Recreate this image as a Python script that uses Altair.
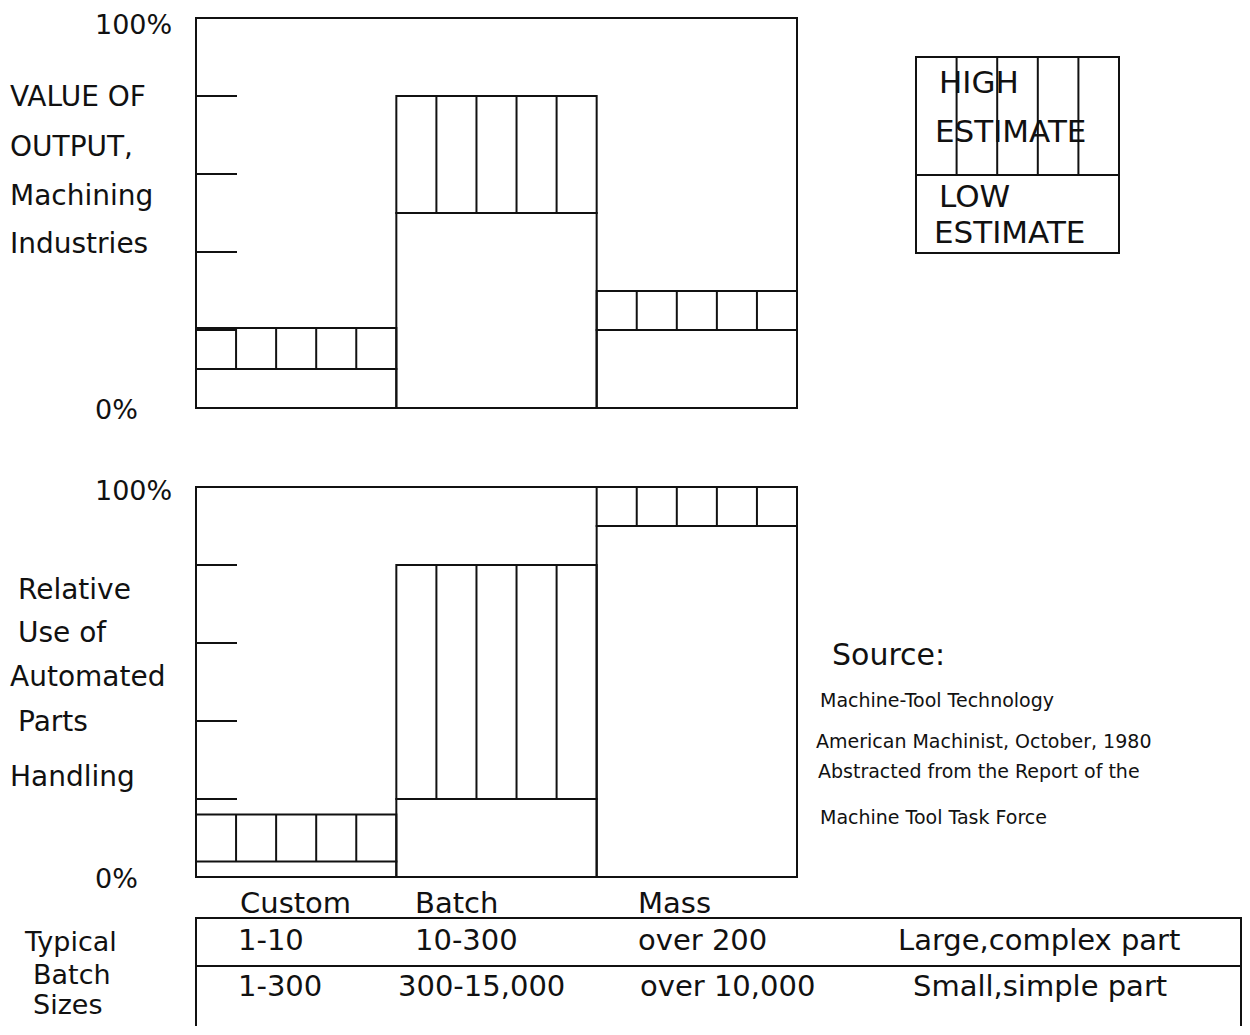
import altair as alt
import pandas as pd

# ---------------- data ----------------
categories = ["Custom", "Batch", "Mass"]
output_low = [10, 50, 20]          # VALUE OF OUTPUT, low estimate (%)
output_high = [20.5, 80, 30]       # VALUE OF OUTPUT, high estimate (%)
auto_low = [4, 20, 90]             # Relative use of automated parts handling, low (%)
auto_high = [16, 80, 100]          # high (%)
tick_values = [20, 40, 60, 80]
pct_values = [100, 0]
pct_labels = ["100%", "0%"]
n_cells = 5

top_title = ["VALUE OF", "OUTPUT,", "Machining", "Industries"]
bottom_title = ["Relative", "Use of", "Automated", "Parts", "Handling"]
legend_high = ["HIGH", "ESTIMATE"]
legend_low = ["LOW", "ESTIMATE"]
source_head = "Source:"
source_lines = ["Machine-Tool Technology", "American Machinist, October, 1980",
                "Abstracted from the Report of the", "Machine Tool Task Force"]
table_label = ["Typical", "Batch", "Sizes"]
row_large = ["1-10", "10-300", "over 200", "Large,complex part"]
row_small = ["1-300", "300-15,000", "over 10,000", "Small,simple part"]

# ---------------- layout / style ----------------
INK = "#111111"
FONT = "DejaVu Sans"
LW = 2
PANEL_W = 601
TOP_RANGE = [390, 0]
BOT_RANGE = [859, 469]
W, H = 1046, 1008


def label(text, x, y, size, align="left"):
    return alt.Chart(pd.DataFrame({"t": [text]})).mark_text(
        align=align, baseline="middle", fontSize=size, font=FONT, color=INK
    ).encode(x=alt.value(x), y=alt.value(y), text="t:N")


def hrule(x1, x2, y):
    return alt.Chart(pd.DataFrame({"a": [0]})).mark_rule(
        color=INK, strokeWidth=LW, strokeCap="square"
    ).encode(x=alt.value(x1), x2=alt.value(x2), y=alt.value(y))


def vrule(x, y1, y2):
    return alt.Chart(pd.DataFrame({"a": [0]})).mark_rule(
        color=INK, strokeWidth=LW, strokeCap="square"
    ).encode(x=alt.value(x), y=alt.value(y1), y2=alt.value(y2))


def panel(low, high, y_range, top_dy):
    n = len(categories)
    xs = alt.Scale(domain=[0, n], range=[0, PANEL_W], nice=False, zero=False)
    ys = alt.Scale(domain=[0, 100], range=y_range, nice=False, zero=False)
    bars = pd.DataFrame({
        "cat": categories,
        "i0": list(range(n)),
        "i1": [i + 1 for i in range(n)],
        "low": low,
        "high": high,
    })
    frame_df = pd.DataFrame({"x0": [0], "x1": [n], "y0": [0], "y1": [100]})
    frame = alt.Chart(frame_df).mark_rect(
        fillOpacity=0, stroke=INK, strokeWidth=LW
    ).encode(
        x=alt.X("x0:Q", scale=xs, axis=None), x2="x1:Q",
        y=alt.Y("y0:Q", scale=ys, axis=None), y2="y1:Q",
    )
    blocks = alt.Chart(bars).mark_rect(
        fillOpacity=0, stroke=INK, strokeWidth=LW
    ).encode(
        x=alt.X("i0:Q", scale=xs, axis=None), x2="i1:Q",
        y=alt.Y("high:Q", scale=ys, axis=None), y2=alt.datum(0),
    )
    low_rule = alt.Chart(bars).mark_rule(
        color=INK, strokeWidth=LW, strokeCap="square"
    ).encode(
        x=alt.X("i0:Q", scale=xs, axis=None), x2="i1:Q",
        y=alt.Y("low:Q", scale=ys, axis=None),
    )
    div_rows = []
    for i in range(n):
        for k in range(1, n_cells):
            div_rows.append({"pos": i + k / n_cells, "low": low[i], "high": high[i]})
    dividers = alt.Chart(pd.DataFrame(div_rows)).mark_rule(
        color=INK, strokeWidth=LW
    ).encode(
        x=alt.X("pos:Q", scale=xs, axis=None),
        y=alt.Y("low:Q", scale=ys, axis=None), y2="high:Q",
    )
    ticks = alt.Chart(pd.DataFrame({"v": tick_values})).mark_rule(
        color=INK, strokeWidth=LW
    ).encode(
        x=alt.value(0), x2=alt.value(41),
        y=alt.Y("v:Q", scale=ys, axis=None),
    )
    pct_df = pd.DataFrame({"v": pct_values, "t": pct_labels})
    pct_top = alt.Chart(pct_df.iloc[[0]]).mark_text(
        align="left", baseline="middle", fontSize=27, font=FONT, color=INK, dy=top_dy
    ).encode(
        x=alt.value(-101),
        y=alt.Y("v:Q", scale=ys, axis=None), text="t:N",
    )
    pct_bot = alt.Chart(pct_df.iloc[[1]]).mark_text(
        align="left", baseline="middle", fontSize=27, font=FONT, color=INK, dy=3
    ).encode(
        x=alt.value(-101),
        y=alt.Y("v:Q", scale=ys, axis=None), text="t:N",
    )
    return alt.layer(frame, blocks, low_rule, dividers, ticks, pct_top, pct_bot)


top = panel(output_low, output_high, TOP_RANGE, 8)
bottom = panel(auto_low, auto_high, BOT_RANGE, 5)

extras = []
# axis titles
for t, x, y in zip(top_title, [-186, -186, -186, -186], [80, 130, 179, 227]):
    extras.append(label(t, x, y, 28))
for t, x, y in zip(bottom_title, [-178, -178, -186, -178, -186], [573, 616, 660, 705, 760]):
    extras.append(label(t, x, y, 28))

# legend box
LX0, LX1, LY0, LY1, LYM = 720, 923, 39, 235, 157
extras.append(alt.Chart(pd.DataFrame({"a": [0]})).mark_rect(
    fillOpacity=0, stroke=INK, strokeWidth=LW
).encode(x=alt.value(LX0), x2=alt.value(LX1), y=alt.value(LY0), y2=alt.value(LY1)))
extras.append(hrule(LX0, LX1, LYM))
for k in range(1, n_cells):
    xk = LX0 + k * (LX1 - LX0) / n_cells
    extras.append(vrule(xk, LY0, LYM))
extras.append(label(legend_high[0], 743, 66, 31))
extras.append(label(legend_high[1], 739, 115, 31))
extras.append(label(legend_low[0], 743, 180, 31))
extras.append(label(legend_low[1], 738, 216, 31))

# source
extras.append(label(source_head, 636, 638, 30))
for t, x, y in zip(source_lines, [624, 620, 622, 624], [683, 724, 754, 800]):
    extras.append(label(t, x, y, 19))

# table
TX0, TX1, TY0, TYM = 0, 1045, 900, 948
extras.append(hrule(TX0, TX1, TY0))
extras.append(hrule(TX0, TX1, TYM))
extras.append(vrule(TX0, TY0, H))
extras.append(vrule(TX1, TY0, H))
for t, x in zip(categories, [44, 219, 442]):
    extras.append(label(t, x, 886, 29))
for t, x in zip(row_large, [42, 219, 442, 702]):
    extras.append(label(t, x, 923, 29))
for t, x in zip(row_small, [42, 202, 444, 717]):
    extras.append(label(t, x, 969, 29))
for t, x, y in zip(table_label, [-171, -163, -163], [925, 958, 988]):
    extras.append(label(t, x, y, 27))

chart = alt.layer(top, bottom, *extras).resolve_scale(y="independent").properties(
    width=W,
    height=H,
    autosize=alt.AutoSizeParams(type="none"),
    padding={"left": 188, "top": 10, "right": 0, "bottom": 0},
    background="white",
).configure_view(strokeWidth=0)

chart.save("out.html", embed_options={"renderer": "svg", "actions": False})
